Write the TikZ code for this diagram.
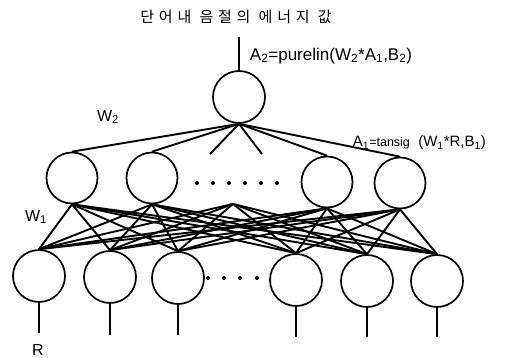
\documentclass[tikz,border=0pt]{standalone}
\usepackage{fontspec}
\setmainfont{Liberation Sans}
\newfontfamily\krfont[LetterSpace=32]{Noto Sans CJK KR}
\usetikzlibrary{positioning}

\begin{document}
\begin{tikzpicture}[x=1pt,y=-1pt,line width=1.9pt,
    neuron/.style={draw,circle,minimum size=51pt,inner sep=0pt,line width=1.7pt},
    pin/.style={inner sep=0pt,minimum size=0pt},
    lbl/.style={font=\fontsize{16}{18}\selectfont,inner sep=0pt}]
  \useasboundingbox (0,0) rectangle (520,358);

  \node[font=\krfont\fontsize{15}{17}\selectfont] (title) at (236,17) {단어내 음절의 에너지 값};

  % output layer
  \node[neuron,minimum size=52pt] (out) at (239,97) {};
  \coordinate (outtop) at (239,37);
  \draw[line width=1.4pt] (out.north) -- (outtop);

  % hidden layer
  \node[neuron] (h1) at (72,178) {};
  \node[neuron] (h2) at (152,178) {};
  \node[neuron] (h3) at (327,182) {};
  \node[neuron] (h4) at (400,183) {};
  \node[pin] (hd) at (233,203) {};
  \node[pin] (sl) at (210,155) {};
  \node[pin] (sr) at (262,155) {};
  \foreach \x in {197,213,...,277}
    \fill (\x,183) circle (2pt);

  \foreach \h in {h1,h2,h3,h4,sl,sr}
    \draw (out.south) -- (\h.north);

  % input layer
  \node[neuron,minimum size=52pt] (i1) at (39,276) {};
  \node[neuron,minimum size=52pt] (i2) at (110,277) {};
  \node[neuron,minimum size=52pt] (i3) at (178,278) {};
  \node[neuron,minimum size=52pt] (i4) at (296,280) {};
  \node[neuron,minimum size=52pt] (i5) at (367,281) {};
  \node[neuron,minimum size=52pt] (i6) at (437,281) {};
  \foreach \x in {208,224,240,257}
    \fill (\x,278) circle (2pt);

  \foreach \s in {h1,h2,hd,h3,h4}
    \foreach \t in {i1,i2,i3,i4,i5,i6}
      \draw (\s.south) -- (\t.north);

  \foreach \t/\x/\y in {i1/39/333,i2/110/335,i3/178/335,i4/296/337,i5/367/337,i6/437/337} {
    \coordinate (\t in) at (\x,\y);
    \draw (\t.south) -- (\t in);
  }

  % labels
  \node[lbl,anchor=west,font=\fontsize{17}{19}\selectfont] (a2) at (249,56) {A\textsubscript{2}=purelin(W\textsubscript{2}*A\textsubscript{1},B\textsubscript{2})};
  \node[lbl,anchor=west,font=\fontsize{15}{17}\selectfont] (a1) at (352,143) {A\textsubscript{1}{\fontsize{12.5}{14}\selectfont=tansig}\ \ (W\textsubscript{1}*R,B\textsubscript{1})};
  \node[lbl] (w2) at (108,117) {W\textsubscript{2}};
  \node[lbl] (w1) at (36,217) {W\textsubscript{1}};
  \node[lbl] (r) at (38,350) {R};
\end{tikzpicture}
\end{document}
